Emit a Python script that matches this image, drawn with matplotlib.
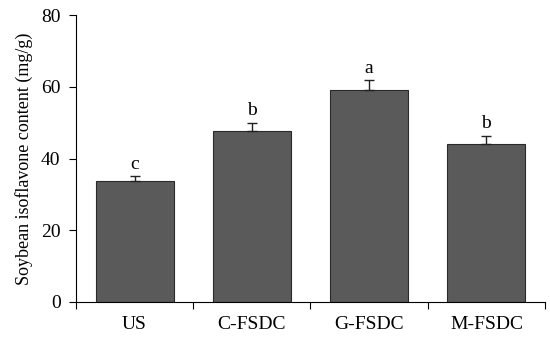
import numpy as np
import matplotlib.pyplot as plt

# data
groups = ['US', 'C-FSDC', 'G-FSDC', 'M-FSDC']
content = [33.7, 47.7, 59.0, 44.1]
err = [1.3, 2.2, 2.8, 2.3]
letters = ['c', 'b', 'a', 'b']

plt.rcParams['font.family'] = ['Liberation Serif', 'DejaVu Serif']

fig = plt.figure(figsize=(5.5, 3.37), dpi=100)
ax = fig.add_axes([0.138, 0.104, 0.853, 0.851])

x = np.arange(len(groups))
ax.bar(x, content, width=0.665, color='#5a5a5a', edgecolor='#2a2a2a', linewidth=0.8,
       yerr=[[0]*len(err), err], error_kw=dict(ecolor='#222222', elinewidth=1.0, capsize=3.5, capthick=1.0))

# significance letters above the error bars
for i in range(len(groups)):
    ax.text(x[i], content[i] + err[i] + 1.0, letters[i], ha='center', va='bottom', fontsize=14)

ax.set_xlim(-0.5, 3.5)
ax.set_ylim(0, 80)
ax.set_yticks([0, 20, 40, 60, 80])
ax.set_xticks(np.arange(-0.5, 4, 1))
ax.set_xticklabels([])
ax.set_xticks(x, minor=True)
ax.set_xticklabels(groups, minor=True)
ax.tick_params(axis='x', which='minor', length=0, pad=10, labelsize=14)
ax.tick_params(axis='x', which='major', length=5, direction='out')
ax.tick_params(axis='y', length=5, direction='out', labelsize=14, pad=6)
ax.spines['top'].set_visible(False)
ax.spines['right'].set_visible(False)
ax.set_ylabel('Soybean isoflavone content (mg/g)', fontsize=13, labelpad=6)

fig.savefig('out.png', dpi=100)
